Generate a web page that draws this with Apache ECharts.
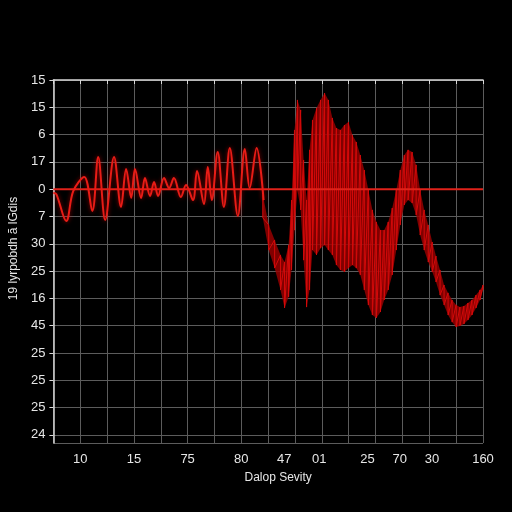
<!DOCTYPE html>
<html>
<head>
<meta charset="utf-8">
<script src="https://cdn.jsdelivr.net/npm/echarts@6.0.0/dist/echarts.min.js"></script>
<style>
html, body { margin: 0; background: #000; }
#chart { width: 512px; height: 512px; }
</style>
</head>
<body>
<div id="chart"></div>
<script>
// y axis labels, top to bottom (axis is inverted, one label every 10 units)
var yLabels = ['15', '15', '6', '17', '0', '7', '30', '25', '16', '45', '25', '25', '25', '24'];
// x axis labels and where they sit on the 0..160 axis
var xLabelPos = [10, 30, 50, 70, 86, 99, 117, 129, 141, 160];
var xLabels = ['10', '15', '75', '80', '47', '01', '25', '70', '30', '160'];

// red reference line
var baseLevel = 40;

// left part of the signal (smooth oscillation)
var waveX = [0, 1.1, 4.8, 7.4, 11.5, 14.5, 16.7, 19.3, 22.6, 25.2, 27.1, 29.0, 30.4, 32.7, 34.1, 36.0, 37.5, 39.0,
  41.2, 43.1, 44.9, 47.5, 49.4, 52.0, 53.5, 56.1, 57.5, 59.0, 61.2, 63.5, 65.7, 68.7, 71.3, 73.1, 75.7, 78.3];
var waveY = [41.4, 41.8, 51.7, 40.7, 35.5, 48.0, 28.2, 51.3, 28.2, 46.5, 32.6, 43.2, 32.6, 43.2, 35.9, 42.5, 37.4, 42.5,
  35.9, 39.6, 35.9, 42.9, 38.5, 44.0, 33.3, 45.4, 31.9, 44.0, 26.4, 46.5, 24.9, 49.8, 25.3, 39.6, 24.9, 44.0];

// right part: dense band, upper and lower edge
var bandX = [78.0, 80.2, 82.4, 84.6, 86.1, 87.6, 88.7, 89.8, 90.9, 92.1, 93.2, 94.3, 95.4, 96.5, 98.0, 99.5, 101.0,
  102.4, 103.9, 105.4, 106.9, 108.4, 109.9, 111.4, 112.8, 114.3, 115.8, 117.3, 118.8, 120.3, 121.8, 123.2, 124.7,
  126.2, 127.7, 129.2, 130.7, 132.1, 133.6, 135.1, 136.6, 138.1, 139.6, 141.1, 142.5, 144.0, 145.5, 147.0, 148.5,
  150.0, 151.4, 152.9, 154.4, 155.9, 157.4, 158.9, 160.0];
var bandTop = [42.0, 53.1, 58.6, 64.1, 66.7, 60.5, 44.0, 18.3, 7.3, 11.0, 29.3, 44.0, 25.6, 14.7, 10.3, 7.3, 4.8,
  7.3, 13.9, 17.6, 18.3, 16.5, 15.4, 20.2, 22.7, 27.5, 33.0, 40.3, 47.6, 52.0, 55.0, 55.0, 52.0,
  46.9, 40.3, 33.0, 27.5, 25.6, 26.4, 31.1, 40.3, 47.6, 53.1, 59.4, 64.5, 69.6, 75.1, 78.0, 80.6,
  82.4, 83.2, 82.8, 81.7, 80.6, 78.8, 76.9, 75.1];
var bandBottom = [50.5, 62.3, 68.9, 76.9, 83.5, 79.5, 69.6, 55.0, 40.3, 47.6, 66.0, 83.2, 76.9, 62.3, 64.1, 61.6, 60.5,
  62.3, 64.1, 67.8, 69.6, 70.3, 68.9, 67.8, 68.9, 71.4, 76.9, 82.4, 86.1, 87.2, 85.0, 80.6, 76.9,
  71.4, 62.3, 53.1, 45.8, 44.0, 45.1, 49.5, 56.8, 62.3, 66.7, 70.3, 74.0, 78.8, 82.4, 86.1, 88.7,
  90.5, 90.1, 89.4, 87.9, 86.1, 83.5, 80.6, 76.9];

var chart = echarts.init(document.getElementById('chart'));

var waveData = waveX.map(function (x, i) { return [x, waveY[i]]; });
// 세로 줄무늬: 위 -> 아래 -> 다음 위 ...
var bandLine = [];
bandX.forEach(function (x, i) {
  bandLine.push([x, bandTop[i]]);
  bandLine.push([x, bandBottom[i]]);
});

// 띠 채우기 (위쪽 가장자리 -> 아래쪽 가장자리 역순)
function renderBand(params, api) {
  var pts = [];
  for (var i = 0; i < bandX.length; i++) pts.push(api.coord([bandX[i], bandTop[i]]));
  for (var j = bandX.length - 1; j >= 0; j--) pts.push(api.coord([bandX[j], bandBottom[j]]));
  return {
    type: 'polygon',
    shape: { points: pts },
    style: { fill: 'rgba(150,0,0,0.85)', stroke: 'none' }
  };
}

var txt = '#e6e6e6';
var font = 'Liberation Sans';

chart.setOption({
  backgroundColor: '#000',
  animation: false,
  grid: { left: 51, right: 29, top: 80, bottom: 69 },
  xAxis: {
    type: 'value',
    min: 0,
    max: 160,
    interval: 10,
    name: 'Dalop Sevity',
    nameLocation: 'middle',
    nameGap: 29,
    nameTextStyle: { color: txt, fontSize: 12, fontFamily: font, padding: [0, 0, 0, 20] },
    axisLine: { lineStyle: { color: '#d8d8d8', width: 1.5 } },
    axisTick: { show: true, length: 4, lineStyle: { color: '#d8d8d8' } },
    axisLabel: {
      customValues: xLabelPos,
      color: txt,
      fontSize: 13,
      fontFamily: font,
      margin: 10,
      formatter: function (v) {
        var i = xLabelPos.indexOf(v);
        return i >= 0 ? xLabels[i] : '';
      }
    },
    splitLine: { show: true, lineStyle: { color: '#5c5c5c', width: 1 } }
  },
  yAxis: {
    type: 'value',
    inverse: true,
    min: 0,
    max: 133,
    interval: 10,
    name: '19 lyrpobdh ã lGdis',
    nameLocation: 'middle',
    nameGap: 30,
    nameTextStyle: { color: txt, fontSize: 12, fontFamily: font, padding: [0, 0, 0, 26] },
    axisLine: { show: true, lineStyle: { color: '#d8d8d8', width: 1.5 } },
    axisTick: { show: true, length: 4, lineStyle: { color: '#d8d8d8' } },
    axisLabel: {
      color: txt,
      fontSize: 13,
      fontFamily: font,
      margin: 8,
      formatter: function (v) {
        var i = Math.round(v / 10);
        return yLabels[i] !== undefined ? yLabels[i] : '';
      }
    },
    splitLine: { show: true, lineStyle: { color: '#5c5c5c', width: 1 } }
  },
  series: [
    {
      type: 'custom',
      renderItem: renderBand,
      data: [[bandX[0], bandTop[0]]],
      silent: true,
      z: 1
    },
    {
      type: 'line',
      data: bandLine,
      symbol: 'none',
      z: 2,
      lineStyle: { color: '#d40a0a', width: 1 }
    },
    {
      type: 'line',
      data: [[0, baseLevel], [160, baseLevel]],
      symbol: 'none',
      z: 3,
      lineStyle: { color: '#e0221a', width: 2 }
    },
    {
      type: 'line',
      data: waveData,
      smooth: 0.35,
      symbol: 'none',
      z: 4,
      lineStyle: { color: '#e81c16', width: 2, shadowBlur: 4, shadowColor: 'rgba(255,0,0,0.6)' }
    }
  ]
});
</script>
</body>
</html>
